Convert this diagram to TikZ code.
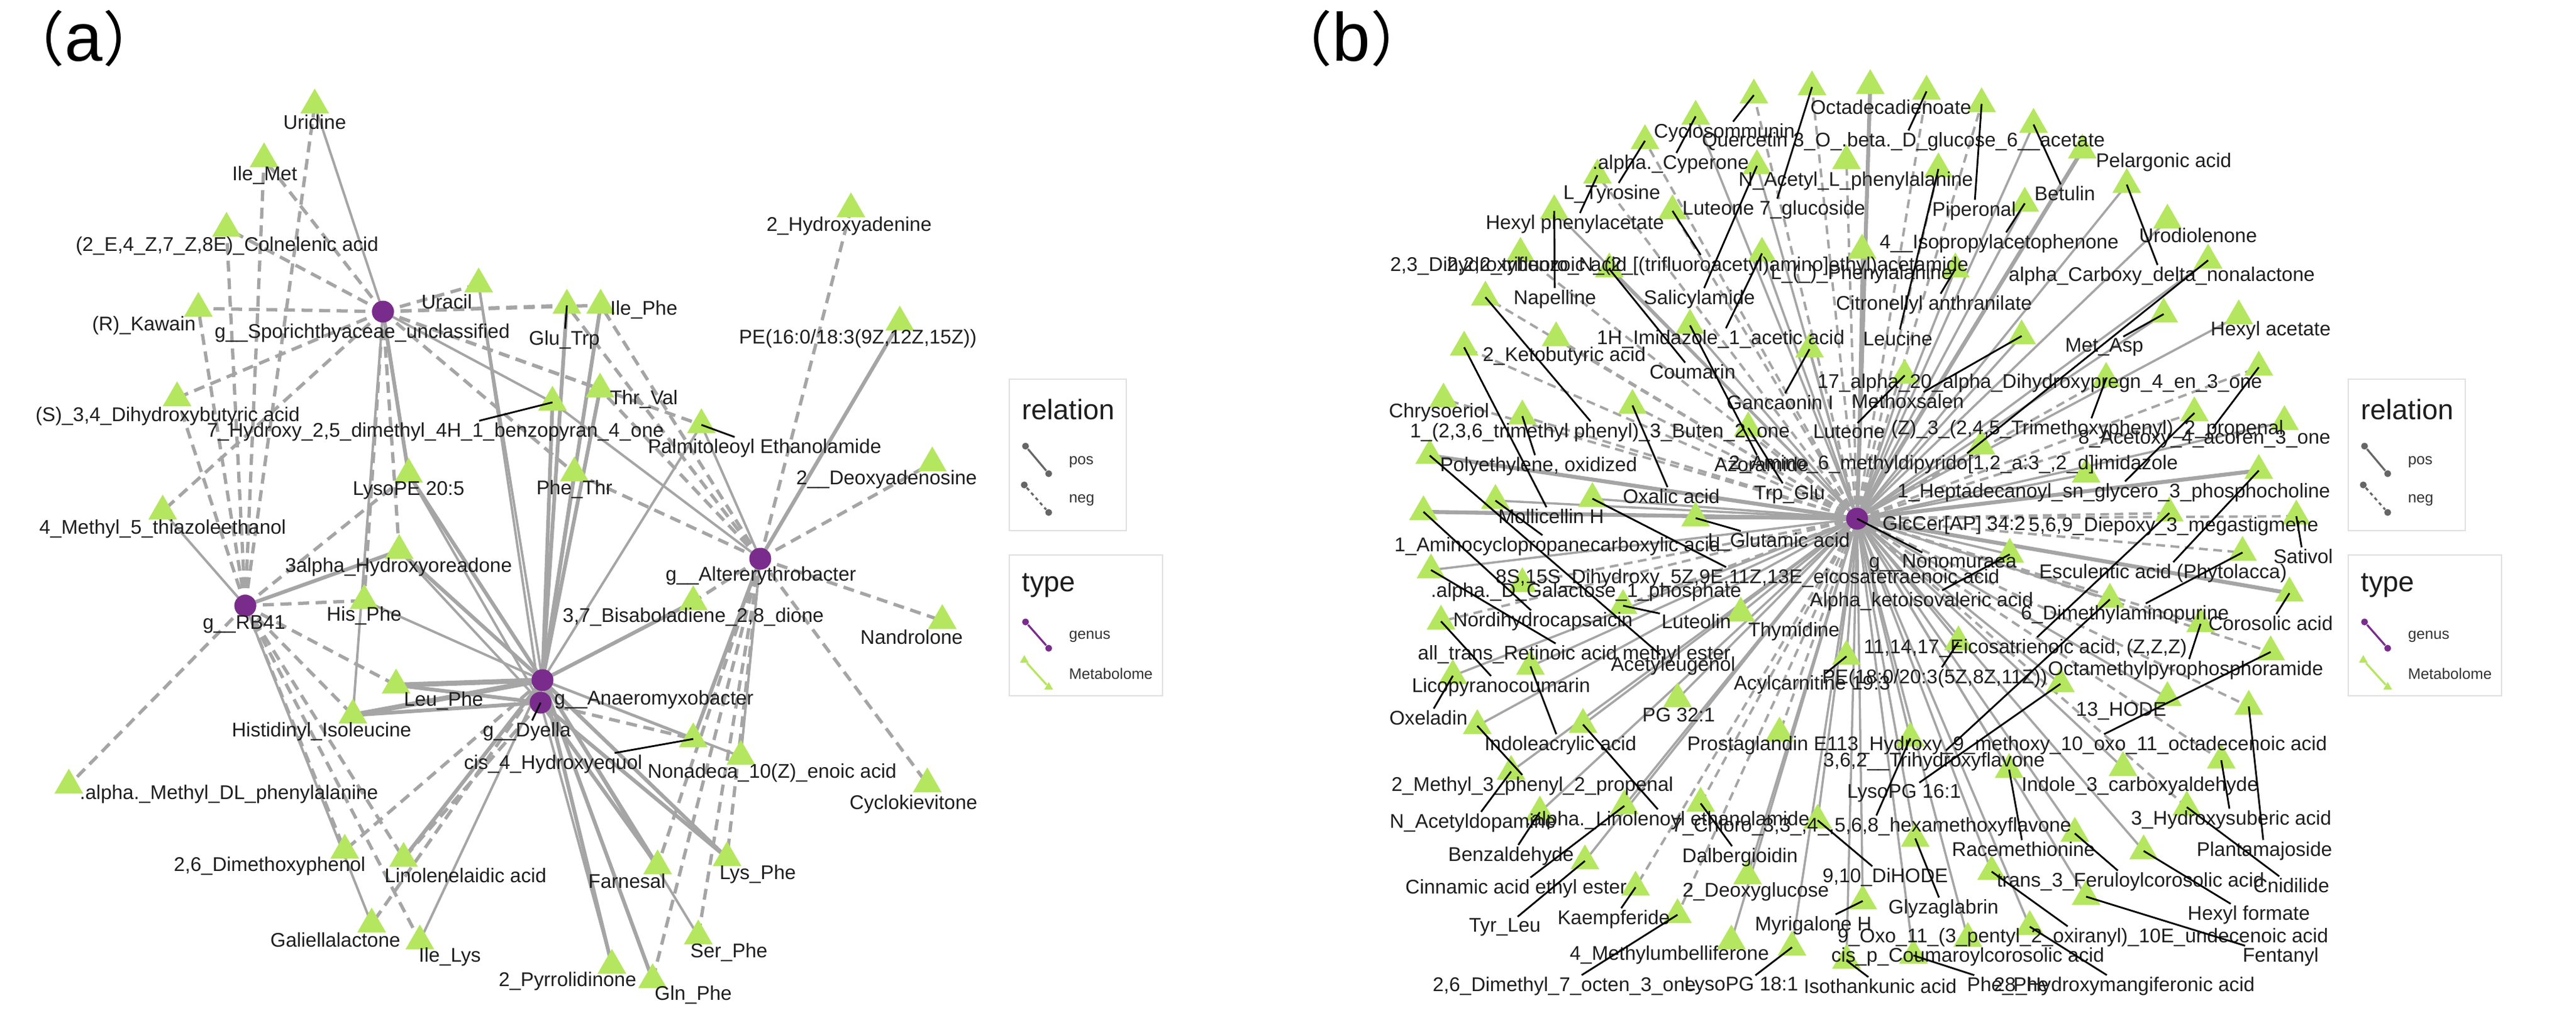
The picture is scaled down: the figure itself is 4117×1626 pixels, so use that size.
\documentclass[tikz,border=0pt]{standalone}
\usepackage{fontspec}
\setmainfont{Liberation Sans}
\newfontfamily\cjk{Noto Sans CJK SC}
\usetikzlibrary{shapes.geometric}
\definecolor{metgreen}{RGB}{181,230,95}
\definecolor{genpurple}{RGB}{122,44,140}
\definecolor{edgegray}{RGB}{165,165,165}
\definecolor{labcol}{RGB}{30,30,30}
\pgfdeclarelayer{back}
\pgfdeclarelayer{bg}
\pgfsetlayers{back,bg,main}
\newcommand{\lf}{\fontsize{9}{10}\selectfont}
\begin{document}
\begin{tikzpicture}[x=0.01cm,y=-0.01cm,
  met/.style={regular polygon,regular polygon sides=3,fill=metgreen,draw=none,inner sep=0pt,minimum size=0.53cm},
  gen/.style={circle,fill=genpurple,draw=none,inner sep=0pt,minimum size=0.35cm},
  lab/.style={font=\lf,inner sep=0.6pt,text=labcol},
  pa/.style={draw=edgegray,line width=1.1pt},
  pA/.style={draw=edgegray,line width=1.7pt},
  pAA/.style={draw=edgegray,line width=2.3pt},
  na/.style={draw=edgegray,line width=1.5pt,dash pattern=on 5pt off 3pt},
  pb/.style={draw=edgegray,line width=1.0pt},
  pB/.style={draw=edgegray,line width=1.8pt},
  nb/.style={draw=edgegray,line width=1.1pt,dash pattern=on 4pt off 2.5pt},
  lead/.style={draw=black,line width=0.8pt},
  legbox/.style={draw=black!12,line width=0.8pt,fill=white},
  legt/.style={font=\fontsize{12.8}{14}\selectfont,anchor=west,inner sep=0pt,text=labcol},
  legi/.style={font=\fontsize{6.9}{8}\selectfont,anchor=west,inner sep=0pt,text=black!80},
  dotg/.style={circle,fill=black!60,draw=none,inner sep=0pt,minimum size=0.11cm},
  dotp/.style={circle,fill=genpurple,draw=none,inner sep=0pt,minimum size=0.11cm},
  dott/.style={regular polygon,regular polygon sides=3,fill=metgreen,draw=none,inner sep=0pt,minimum size=0.16cm},
  ttl/.style={inner sep=0pt,anchor=base,text=black},
]
\begin{pgfonlayer}{back}
\fill[white] (0,0) rectangle (4117,1626);
\end{pgfonlayer}
\useasboundingbox (0,0) rectangle (4117,1626);

% ---------------- titles
\node[ttl] (ta) at (134,97) {{\cjk\fontsize{27}{30}\selectfont （}{\fontsize{31}{34}\selectfont a}{\cjk\fontsize{27}{30}\selectfont ）}};
\node[ttl] (tb) at (2160,97) {{\cjk\fontsize{27}{30}\selectfont （}{\fontsize{31}{34}\selectfont b}{\cjk\fontsize{27}{30}\selectfont ）}};

% ================= PANEL A =================
\node[gen] (S) at (612,498) {};
\node[gen] (R) at (392,968) {};
\node[gen] (A) at (1215,893) {};
\node[gen] (X) at (867,1087) {};
\node[gen] (D) at (864,1123) {};

\node[met] (a1) at (503,168) {};
\node[met] (a2) at (422,254) {};
\node[met] (a3) at (362,365) {};
\node[met] (a4) at (317,493) {};
\node[met] (a5) at (765,454) {};
\node[met] (a6) at (906,488) {};
\node[met] (a7) at (960,488) {};
\node[met] (a8) at (1360,334) {};
\node[met] (a9) at (1438,515) {};
\node[met] (a10) at (283,636) {};
\node[met] (a11) at (883,643) {};
\node[met] (a12) at (959,622) {};
\node[met] (a13) at (1121,679) {};
\node[met] (a14) at (653,758) {};
\node[met] (a15) at (260,817) {};
\node[met] (a16) at (1490,740) {};
\node[met] (a17) at (918,756) {};
\node[met] (a18) at (638,880) {};
\node[met] (a19) at (582,960) {};
\node[met] (a20) at (1108,962) {};
\node[met] (a21) at (1506,992) {};
\node[met] (a22) at (633,1095) {};
\node[met] (a23) at (564,1143) {};
\node[met] (a24) at (1108,1181) {};
\node[met] (a25) at (1184,1209) {};
\node[met] (a26) at (1482,1253) {};
\node[met] (a27) at (110,1255) {};
\node[met] (a28) at (551,1359) {};
\node[met] (a29) at (645,1372) {};
\node[met] (a30) at (1051,1384) {};
\node[met] (a31) at (1162,1371) {};
\node[met] (a32) at (594,1477) {};
\node[met] (a33) at (671,1504) {};
\node[met] (a34) at (1116,1496) {};
\node[met] (a35) at (978,1543) {};
\node[met] (a36) at (1043,1566) {};

\node[lab] (lS) at (579,532) {g\_\_Sporichthyaceae\_unclassified};
\node[lab] (lR) at (390,998) {g\_\_RB41};
\node[lab] (lA) at (1216,920) {g\_\_Altererythrobacter};
\node[lab,anchor=west] (lX) at (883,1118) {g\_\_Anaeromyxobacter};
\node[lab] (lD) at (842,1169) {g\_\_Dyella};
\node[lab] (la1) at (503,195) {Uridine};
\node[lab] (la2) at (423,280) {Ile\_Met};
\node[lab] (la3) at (363,393) {(2\_E,4\_Z,7\_Z,8E)\_Colnelenic acid};
\node[lab] (la4) at (230,520) {(R)\_Kawain};
\node[lab] (la5) at (714,482) {Uracil};
\node[lab] (la6) at (902,543) {Glu\_Trp};
\node[lab] (la7) at (1029,495) {Ile\_Phe};
\node[lab] (la8) at (1357,361) {2\_Hydroxyadenine};
\node[lab] (la9) at (1371,541) {PE(16:0/18:3(9Z,12Z,15Z))};
\node[lab] (la10) at (268,665) {(S)\_3,4\_Dihydroxybutyric acid};
\node[lab] (la11) at (696,690) {7\_Hydroxy\_2,5\_dimethyl\_4H\_1\_benzopyran\_4\_one};
\node[lab] (la12) at (1029,638) {Thr\_Val};
\node[lab] (la13) at (1222,716) {Palmitoleoyl Ethanolamide};
\node[lab] (la14) at (653,784) {LysoPE 20:5};
\node[lab] (la15) at (260,845) {4\_Methyl\_5\_thiazoleethanol};
\node[lab] (la16) at (1417,766) {2\_\_Deoxyadenosine};
\node[lab] (la17) at (918,782) {Phe\_Thr};
\node[lab] (la18) at (637,906) {3alpha\_Hydroxyoreadone};
\node[lab] (la19) at (582,984) {His\_Phe};
\node[lab] (la20) at (1108,986) {3,7\_Bisaboladiene\_2,8\_dione};
\node[lab] (la21) at (1457,1018) {Nandrolone};
\node[lab] (la22) at (709,1120) {Leu\_Phe};
\node[lab] (la23) at (514,1169) {Histidinyl\_Isoleucine};
\node[lab] (la24) at (884,1221) {cis\_4\_Hydroxyequol};
\node[lab] (la25) at (1234,1235) {Nonadeca\_10(Z)\_enoic acid};
\node[lab] (la26) at (1460,1285) {Cyclokievitone};
\node[lab] (la27) at (366,1269) {.alpha.\_Methyl\_DL\_phenylalanine};
\node[lab] (la28) at (431,1384) {2,6\_Dimethoxyphenol};
\node[lab] (la29) at (744,1399) {Linolenelaidic acid};
\node[lab] (la30) at (1002,1408) {Farnesal};
\node[lab] (la31) at (1211,1397) {Lys\_Phe};
\node[lab] (la32) at (536,1502) {Galiellalactone};
\node[lab] (la33) at (719,1529) {Ile\_Lys};
\node[lab] (la34) at (1165,1522) {Ser\_Phe};
\node[lab] (la35) at (907,1568) {2\_Pyrrolidinone};
\node[lab] (la36) at (1108,1590) {Gln\_Phe};

\begin{pgfonlayer}{bg}
% S
\foreach \m in {a2,a3,a4,a5,a6,a7,a10,a15,a18,a19,a12,a17,a13} \draw[na] (S.center) -- (\m.center);
\draw[pa] (S.center) -- (a1.center);
\draw[pa] (S.center) -- (a11.center);
\draw[pA] (S.center) -- (a14.center);
\draw[pa] (S.center) -- (a23.center);
% R
\foreach \m in {a1,a2,a3,a4,a10,a19,a14,a22,a27,a28,a33,a29,a23} \draw[na] (R.center) -- (\m.center);
\draw[pa] (R.center) -- (a15.center);
\draw[pA] (R.center) -- (a18.center);
\draw[pa] (R.center) -- (a32.center);
% A
\foreach \m in {a8,a16,a21,a26,a17,a7,a12,a20,a31,a34,a36,a30,a6} \draw[na] (A.center) -- (\m.center);
\draw[pA] (A.center) -- (a9.center);
\draw[pa] (A.center) -- (a13.center);
\draw[pa] (A.center) -- (a11.center);
\draw[pA] (A.center) -- (a24.center);
\draw[pa] (A.center) -- (a25.center);
% X
\foreach \m in {a6,a7,a12,a17,a11,a14,a18,a20,a29,a30,a31,a35,a36} \draw[pA] (X.center) -- (\m.center);
\foreach \m in {a13,a19,a24,a25,a33,a34,a5} \draw[pa] (X.center) -- (\m.center);
\foreach \m in {a22,a23} \draw[pAA] (X.center) -- (\m.center);
\foreach \m in {a28,a32} \draw[na] (X.center) -- (\m.center);
% D
\foreach \m in {a5,a14,a18,a35,a6} \draw[pa] (D.center) -- (\m.center);
\foreach \m in {a22,a23,a30,a31} \draw[pA] (D.center) -- (\m.center);
\foreach \m in {a29,a24} \draw[na] (D.center) -- (\m.center);
\end{pgfonlayer}

\draw[lead] (a6.center) -- (la6);
\draw[lead] (a11.center) -- (la11);
\draw[lead] (a13.center) -- (la13);
\draw[lead] (a24.center) -- (la24);
\draw[lead] (D.center) -- (lD);

% legend A
\draw[legbox] (1613,606) rectangle (1800,848);
\node[legt] (rAt) at (1633,654) {relation};
\node[dotg] (pA1) at (1639,713) {}; \node[dotg] (pA2) at (1676,757) {};
\draw[black!60,line width=0.9pt] (pA1) -- (pA2);
\node[legi] (pAt) at (1708,738) {pos};
\node[dotg] (nA1) at (1637,775) {}; \node[dotg] (nA2) at (1676,819) {};
\draw[black!60,line width=0.9pt,dash pattern=on 1.5pt off 1.5pt] (nA1) -- (nA2);
\node[legi] (nAt) at (1708,799) {neg};
\draw[legbox] (1613,887) rectangle (1858,1112);
\node[legt] (tAt) at (1633,936) {type};
\node[dotp] (gA1) at (1639,994) {}; \node[dotp] (gA2) at (1676,1036) {};
\draw[genpurple,line width=0.9pt] (gA1) -- (gA2);
\node[legi] (gAt) at (1708,1017) {genus};
\node[dott] (mA1) at (1637,1055) {}; \node[dott] (mA2) at (1676,1098) {};
\draw[metgreen,line width=0.9pt] (mA1) -- (mA2);
\node[legi] (mAt) at (1708,1077) {Metabolome};

% ================= PANEL B =================
\node[gen] (H) at (2968,829) {};
\node[met] (b1) at (2896,139) {};
\node[met] (b2) at (2803,152) {};
\node[met] (b3) at (2710,186) {};
\node[met] (b4) at (2629,225) {};
\node[met] (b5) at (2553,280) {};
\node[met] (b6) at (2484,337) {};
\node[met] (b7) at (2430,405) {};
\node[met] (b8) at (2572,430) {};
\node[met] (b9) at (2374,475) {};
\node[met] (b10) at (2340,555) {};
\node[met] (b11) at (2487,540) {};
\node[met] (b12) at (2701,520) {};
\node[met] (b13) at (2816,405) {};
\node[met] (b14) at (2808,265) {};
\node[met] (b15) at (2673,337) {};
\node[met] (b16) at (2892,558) {};
\node[met] (b17) at (2609,648) {};
\node[met] (b18) at (2307,638) {};
\node[met] (b19) at (2433,665) {};
\node[met] (b20) at (2989,137) {};
\node[met] (b21) at (3079,146) {};
\node[met] (b22) at (3167,166) {};
\node[met] (b23) at (3250,199) {};
\node[met] (b24) at (3328,240) {};
\node[met] (b25) at (3399,295) {};
\node[met] (b26) at (3464,352) {};
\node[met] (b27) at (3236,325) {};
\node[met] (b28) at (3098,270) {};
\node[met] (b29) at (2951,257) {};
\node[met] (b30) at (2976,400) {};
\node[met] (b31) at (3125,430) {};
\node[met] (b32) at (3529,416) {};
\node[met] (b33) at (3458,502) {};
\node[met] (b34) at (3578,505) {};
\node[met] (b35) at (3231,537) {};
\node[met] (b36) at (3044,600) {};
\node[met] (b37) at (3366,605) {};
\node[met] (b38) at (3610,587) {};
\node[met] (b39) at (3507,660) {};
\node[met] (b40) at (2794,684) {};
\node[met] (b41) at (2285,728) {};
\node[met] (b42) at (2390,800) {};
\node[met] (b43) at (2545,797) {};
\node[met] (b44) at (2275,818) {};
\node[met] (b45) at (2710,828) {};
\node[met] (b46) at (2287,911) {};
\node[met] (b47) at (2433,933) {};
\node[met] (b48) at (2594,968) {};
\node[met] (b49) at (2782,980) {};
\node[met] (b50) at (2303,993) {};
\node[met] (b51) at (2322,1080) {};
\node[met] (b52) at (2446,1065) {};
\node[met] (b53) at (2681,1117) {};
\node[met] (b54) at (3166,713) {};
\node[met] (b55) at (3334,758) {};
\node[met] (b56) at (3651,674) {};
\node[met] (b57) at (3610,752) {};
\node[met] (b58) at (3467,820) {};
\node[met] (b59) at (3670,825) {};
\node[met] (b60) at (3212,886) {};
\node[met] (b61) at (3584,883) {};
\node[met] (b62) at (3659,948) {};
\node[met] (b63) at (3372,958) {};
\node[met] (b64) at (2951,1049) {};
\node[met] (b65) at (3130,1026) {};
\node[met] (b66) at (3517,997) {};
\node[met] (b67) at (3293,1093) {};
\node[met] (b68) at (3464,1115) {};
\node[met] (b69) at (3629,1042) {};
\node[met] (b70) at (3594,1129) {};
\node[met] (b71) at (2361,1160) {};
\node[met] (b72) at (2530,1158) {};
\node[met] (b73) at (2415,1233) {};
\node[met] (b74) at (2461,1298) {};
\node[met] (b75) at (2596,1288) {};
\node[met] (b76) at (2533,1376) {};
\node[met] (b77) at (2614,1418) {};
\node[met] (b78) at (2681,1462) {};
\node[met] (b79) at (2844,1172) {};
\node[met] (b80) at (2718,1284) {};
\node[met] (b81) at (2905,1311) {};
\node[met] (b82) at (2793,1400) {};
\node[met] (b83) at (2767,1504) {};
\node[met] (b84) at (2864,1514) {};
\node[met] (b85) at (2977,1440) {};
\node[met] (b86) at (2951,1535) {};
\node[met] (b87) at (3053,1180) {};
\node[met] (b88) at (3211,1230) {};
\node[met] (b89) at (3393,1227) {};
\node[met] (b90) at (3550,1215) {};
\node[met] (b91) at (3495,1290) {};
\node[met] (b92) at (3316,1332) {};
\node[met] (b93) at (3426,1360) {};
\node[met] (b94) at (3061,1340) {};
\node[met] (b95) at (3183,1393) {};
\node[met] (b96) at (3334,1433) {};
\node[met] (b97) at (3145,1500) {};
\node[met] (b98) at (3244,1481) {};
\node[met] (b99) at (3058,1527) {};

% labels B
\node[lab] (lH) at (3105,900) {g\_\_Nonomuraea};
\node[lab] (lb1) at (2835,335) {Luteone 7\_glucoside};
\node[lab] (lb2) at (2756,212) {Cyclosommunin};
\node[lab] (lb3) at (2670,262) {.alpha.\_Cyperone};
\node[lab] (lb4) at (2576,310) {L\_Tyrosine};
\node[lab] (lb5) at (2517,358) {Hexyl phenylacetate};
\node[lab] (lb6) at (2485,478) {Napelline};
\node[lab,anchor=west] (lb7) at (2219,425) {2,3\_Dihydroxybenzoic acid};
\node[lab] (lb8) at (2705,594) {Coumarin};
\node[lab] (lb9) at (2557,691) {1\_(2,3,6\_trimethyl phenyl)\_3\_Buten\_2\_one};
\node[lab] (lb10) at (2479,825) {Mollicellin H};
\node[lab] (lb11) at (2500,569) {2\_Ketobutyric acid};
\node[lab,anchor=west] (lb12) at (2737,742) {Azoramide};
\node[lab] (lb13) at (2750,542) {1H\_Imidazole\_1\_acetic acid};
\node[lab] (lb14) at (2716,478) {Salicylamide};
\node[lab,anchor=east] (lb15) at (3149,425) {2,2,2\_trifluoro\_N\_(2\_[(trifluoroacetyl)amino]ethyl)acetamide};
\node[lab] (lb16) at (2845,643) {Gancaonin I};
\node[lab,anchor=west] (lb17) at (2591,793) {Oxalic acid};
\node[lab] (lb18) at (2300,659) {Chrysoeriol};
\node[lab] (lb19) at (2459,745) {Polyethylene, oxidized};
\node[lab] (lb20) at (3022,171) {Octadecadienoate};
\node[lab] (lb21) at (3042,226) {Quercetin 3\_O\_.beta.\_D\_glucose\_6\_\_acetate};
\node[lab] (lb22) at (3155,337) {Piperonal};
\node[lab] (lb23) at (3300,309) {Betulin};
\node[lab] (lb24) at (3458,259) {Pelargonic acid};
\node[lab] (lb25) at (3455,441) {alpha\_Carboxy\_delta\_nonalactone};
\node[lab] (lb26) at (3513,376) {Urodiolenone};
\node[lab] (lb27) at (3195,389) {4\_\_Isopropylacetophenone};
\node[lab] (lb28) at (3033,541) {Leucine};
\node[lab] (lb29) at (2966,289) {N\_Acetyl\_L\_phenylalanine};
\node[lab] (lb30) at (2975,438) {L\_(\_)\_Phenylalanine};
\node[lab] (lb31) at (3091,487) {Citronellyl anthranilate};
\node[lab] (lb32) at (3122,742) {2\_Amino\_6\_methyldipyrido[1,2\_a:3\_,2\_d]imidazole};
\node[lab] (lb33) at (3363,555) {Met\_Asp};
\node[lab] (lb34) at (3629,528) {Hexyl acetate};
\node[lab] (lb35) at (3049,641) {Methoxsalen};
\node[lab] (lb36) at (2955,690) {Luteone};
\node[lab] (lb37) at (3336,686) {(Z)\_3\_(2,4,5\_Trimethoxyphenyl)\_2\_propenal};
\node[lab] (lb38) at (3523,702) {8\_Acetoxy\_4\_acoren\_3\_one};
\node[lab,anchor=east] (lb39) at (3727,787) {1\_Heptadecanoyl\_sn\_glycero\_3\_phosphocholine};
\node[lab] (lb40) at (2860,790) {Trp\_Glu};
\node[lab] (lb41) at (2674,1064) {Acetyleugenol};
\node[lab] (lb42) at (2489,873) {1\_Aminocyclopropanecarboxylic acid};
\node[lab] (lb43) at (2793,924) {8S,15S\_Dihydroxy\_5Z,9E,11Z,13E\_eicosatetraenoic acid};
\node[lab] (lb44) at (2466,993) {Nordihydrocapsaicin};
\node[lab] (lb45) at (2843,866) {L\_Glutamic acid};
\node[lab] (lb46) at (2516,1046) {all\_trans\_Retinoic acid methyl ester};
\node[lab] (lb47) at (2535,946) {.alpha.\_D\_Galactose\_1\_phosphate};
\node[lab] (lb48) at (2711,993) {Luteolin};
\node[lab] (lb49) at (2867,1009) {Thymidine};
\node[lab] (lb50) at (2399,1098) {Licopyranocoumarin};
\node[lab] (lb51) at (2283,1147) {Oxeladin};
\node[lab] (lb52) at (2494,1191) {Indoleacrylic acid};
\node[lab] (lb53) at (2683,1143) {PG 32:1};
\node[lab] (lb54) at (3123,839) {GlcCer[AP] 34:2};
\node[lab,anchor=east] (lb55) at (3708,841) {5,6,9\_Diepoxy\_3\_megastigmene};
\node[lab] (lb57) at (3457,916) {Esculentic acid (Phytolacca)};
\node[lab] (lb58) at (3237,1036) {11,14,17\_Eicosatrienoic acid, (Z,Z,Z)};
\node[lab] (lb59) at (3681,889) {Sativol};
\node[lab] (lb60) at (3071,961) {Alpha\_ketoisovaleric acid};
\node[lab] (lb61) at (3396,982) {6\_Dimethylaminopurine};
\node[lab] (lb62) at (3629,996) {Corosolic acid};
\node[lab] (lb63) at (3091,1217) {3,6,2\_\_Trihydroxyflavone};
\node[lab] (lb64) at (2896,1094) {Acylcarnitine 19:3};
\node[lab] (lb65) at (3092,1084) {PE(18:0/20:3(5Z,8Z,11Z))};
\node[lab] (lb66) at (3493,1071) {Octamethylpyrophosphoramide};
\node[lab] (lb67) at (3043,1268) {LysoPG 16:1};
\node[lab] (lb68) at (3390,1137) {13\_HODE};
\node[lab] (lb69) at (3327,1191) {13\_Hydroxy\_9\_methoxy\_10\_oxo\_11\_octadecenoic acid};
\node[lab] (lb70) at (3619,1360) {Plantamajoside};
\node[lab] (lb71) at (2449,1256) {2\_Methyl\_3\_phenyl\_2\_propenal};
\node[lab] (lb72) at (2665,1311) {.alpha.\_Linolenoyl ethanolamide};
\node[lab] (lb73) at (2354,1315) {N\_Acetyldopamine};
\node[lab] (lb74) at (2415,1368) {Benzaldehyde};
\node[lab] (lb75) at (2423,1420) {Cinnamic acid ethyl ester};
\node[lab] (lb76) at (2405,1482) {Tyr\_Leu};
\node[lab] (lb77) at (2579,1469) {Kaempferide};
\node[lab] (lb78) at (2500,1576) {2,6\_Dimethyl\_7\_octen\_3\_one};
\node[lab] (lb79) at (2817,1191) {Prostaglandin E1};
\node[lab] (lb80) at (2781,1370) {Dalbergioidin};
\node[lab] (lb81) at (3013,1402) {9,10\_DiHODE};
\node[lab] (lb82) at (2806,1425) {2\_Deoxyglucose};
\node[lab] (lb83) at (2668,1526) {4\_Methylumbelliferone};
\node[lab] (lb84) at (2783,1576) {LysoPG 18:1};
\node[lab] (lb85) at (2898,1479) {Myrigalone H};
\node[lab] (lb86) at (3005,1576) {Isothankunic acid};
\node[lab] (lb87) at (2991,1321) {7\_Chloro\_3,3\_,4\_,5,6,8\_hexamethoxyflavone};
\node[lab] (lb88) at (3234,1357) {Racemethionine};
\node[lab] (lb89) at (3420,1256) {Indole\_3\_carboxyaldehyde};
\node[lab] (lb90) at (3566,1310) {3\_Hydroxysuberic acid};
\node[lab] (lb91) at (3662,1415) {Cnidilide};
\node[lab] (lb92) at (3405,1409) {trans\_3\_Feruloylcorosolic acid};
\node[lab] (lb93) at (3594,1462) {Hexyl formate};
\node[lab] (lb94) at (3106,1452) {Glyzaglabrin};
\node[lab] (lb95) at (3329,1498) {9\_Oxo\_11\_(3\_pentyl\_2\_oxiranyl)\_10E\_undecenoic acid};
\node[lab] (lb96) at (3645,1529) {Fentanyl};
\node[lab] (lb97) at (3145,1529) {cis\_p\_Coumaroylcorosolic acid};
\node[lab] (lb98) at (3395,1576) {28\_Hydroxymangiferonic acid};
\node[lab] (lb99) at (3209,1576) {Phe\_Phe};
\node[lab] (lbx1) at (3260,612) {17\_alpha\_20\_alpha\_Dihydroxypregn\_4\_en\_3\_one};

\begin{pgfonlayer}{bg}
\foreach \m in {b3,b6,b8,b12,b13,b14,b16,b23,b25,b26,b27,b30,b31,b32,b33,b34,b35,b36,b42,b43,b45,b46,b49,b51,b52,b53,b54,b55,b56,b60,b63,b64,b65,b67,b68,b71,b72,b73,b74,b75,b76,b81,b82,b83,b84,b85,b86,b87,b88,b89,b92,b93,b94,b95,b96,b97,b98,b99}
  \draw[pb] (H.center) -- (\m.center);
\foreach \m in {b20,b24,b41,b44,b57,b62}
  \draw[pB] (H.center) -- (\m.center);
\foreach \m in {b1,b2,b4,b5,b7,b9,b10,b11,b15,b17,b18,b19,b21,b22,b28,b29,b37,b38,b39,b40,b47,b48,b50,b58,b59,b61,b66,b69,b70,b77,b78,b79,b80,b90,b91}
  \draw[nb] (H.center) -- (\m.center);
\end{pgfonlayer}

% leaders B
\draw[lead] (H.center) -- (lH);
\foreach \m in {1,2,3,4,5,6,8,9,10,12,13,14,15,16,17,19,21,22,23,25,27,28,31,32,33,35,36,37,38,39,40,41,42,43,44,45,46,48,50,51,52,57,58,59,60,61,62,63,64,65,66,67,69,70,71,72,73,74,75,76,77,78,80,81,84,85,86,87,88,90,91,92,93,94,95,96,98,99}
  \draw[lead] (b\m.center) -- (lb\m);

% legend B
\draw[legbox] (3753,606) rectangle (3940,848);
\node[legt] (rBt) at (3773,654) {relation};
\node[dotg] (pB1) at (3779,713) {}; \node[dotg] (pB2) at (3816,757) {};
\draw[black!60,line width=0.9pt] (pB1) -- (pB2);
\node[legi] (pBt) at (3848,738) {pos};
\node[dotg] (nB1) at (3777,775) {}; \node[dotg] (nB2) at (3816,819) {};
\draw[black!60,line width=0.9pt,dash pattern=on 1.5pt off 1.5pt] (nB1) -- (nB2);
\node[legi] (nBt) at (3848,799) {neg};
\draw[legbox] (3753,887) rectangle (3998,1112);
\node[legt] (tBt) at (3773,936) {type};
\node[dotp] (gB1) at (3779,994) {}; \node[dotp] (gB2) at (3816,1036) {};
\draw[genpurple,line width=0.9pt] (gB1) -- (gB2);
\node[legi] (gBt) at (3848,1017) {genus};
\node[dott] (mB1) at (3777,1055) {}; \node[dott] (mB2) at (3816,1098) {};
\draw[metgreen,line width=0.9pt] (mB1) -- (mB2);
\node[legi] (mBt) at (3848,1077) {Metabolome};
\end{tikzpicture}
\end{document}
